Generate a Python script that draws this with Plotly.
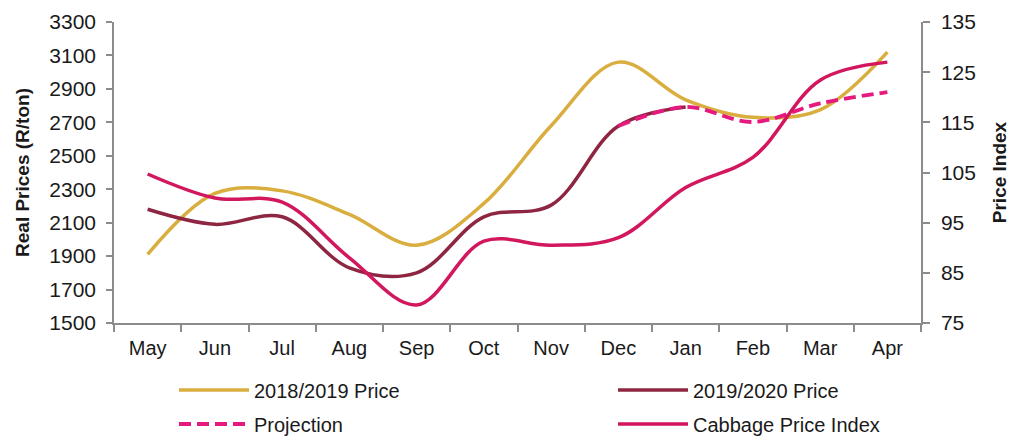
import plotly.graph_objects as go

months = ["May", "Jun", "Jul", "Aug", "Sep", "Oct", "Nov", "Dec", "Jan", "Feb", "Mar", "Apr"]
price_2018_2019 = [1910, 2275, 2290, 2150, 1965, 2215, 2680, 3060, 2835, 2730, 2775, 3120]
price_2019_2020 = [2180, 2090, 2135, 1830, 1800, 2135, 2205, 2678, 2792, None, None, None]
projection = [None, None, None, None, None, None, None, 2678, 2792, 2702, 2813, 2880]
cabbage_index = [104.7, 99.9, 99.1, 88.0, 78.6, 91.3, 90.5, 92.0, 102.0, 108.0, 123.4, 127.0]

FONT = "Liberation Sans, Arial, sans-serif"
TXT = "#1a1a1a"
AX = "#8c8c8c"
FS = 21

W, H = 1009, 429

fig = go.Figure()
fig.add_trace(go.Scatter(x=months, y=price_2018_2019, name="2018/2019 Price", mode="lines",
                         line=dict(color="#D9AE3E", width=3.5, shape="spline", smoothing=1.0),
                         legend="legend"))
fig.add_trace(go.Scatter(x=months, y=price_2019_2020, name="2019/2020 Price", mode="lines",
                         line=dict(color="#8E2642", width=3.5, shape="spline", smoothing=1.0),
                         legend="legend2"))
fig.add_trace(go.Scatter(x=months, y=projection, name="Projection", mode="lines",
                         line=dict(color="#E6197F", width=3.8, dash="12px,6px", shape="spline", smoothing=1.0),
                         legend="legend3"))
fig.add_trace(go.Scatter(x=months, y=cabbage_index, name="Cabbage Price Index", mode="lines",
                         yaxis="y2",
                         line=dict(color="#D2175E", width=3.5, shape="spline", smoothing=1.0),
                         legend="legend4"))

def leg(x, y):
    return dict(orientation="h", xref="container", yref="container",
                x=x, y=y, xanchor="left", yanchor="middle",
                font=dict(family=FONT, size=20, color=TXT),
                bgcolor="rgba(0,0,0,0)", itemwidth=70)

row1 = 1 - 382 / H
row2 = 1 - 416 / H
col1 = 166 / W
col2 = 605 / W

fig.update_layout(
    width=W, height=H,
    margin=dict(l=106, r=96, t=14, b=114, autoexpand=False),
    paper_bgcolor="white", plot_bgcolor="white",
    font=dict(family=FONT, size=FS, color=TXT),
    showlegend=True,
    legend=leg(col1, row1),
    legend2=leg(col2, row1),
    legend3=leg(col1, row2),
    legend4=leg(col2, row2),
    xaxis=dict(
        type="category", range=[-0.5, 11.5], tickson="boundaries",
        showline=True, linecolor=AX, linewidth=1.5,
        ticks="outside", ticklen=7, tickcolor=AX, tickwidth=1.5,
        showgrid=False, zeroline=False, automargin=False,
        ticklabelstandoff=6,
        tickfont=dict(family=FONT, size=20, color=TXT),
    ),
    yaxis=dict(
        range=[1500, 3300], dtick=200, tick0=1500,
        showline=True, linecolor=AX, linewidth=1.5,
        ticks="outside", ticklen=6, tickcolor=AX, tickwidth=1.5,
        showgrid=False, zeroline=False, automargin=False,
        ticklabelstandoff=6,
        tickfont=dict(family=FONT, size=FS, color=TXT),
        title=dict(text="<b>Real Prices (R/ton)</b>", font=dict(family=FONT, size=19, color=TXT), standoff=15),
    ),
    yaxis2=dict(
        overlaying="y", side="right",
        range=[75, 135], dtick=10, tick0=75,
        showline=True, linecolor=AX, linewidth=1.5,
        ticks="outside", ticklen=7, tickcolor=AX, tickwidth=1.5,
        showgrid=False, zeroline=False, automargin=False,
        ticklabelstandoff=7,
        tickfont=dict(family=FONT, size=FS, color=TXT),
        title=dict(text="<b>Price Index</b>", font=dict(family=FONT, size=19, color=TXT), standoff=18),
    ),
)

fig.write_html("out.html")
